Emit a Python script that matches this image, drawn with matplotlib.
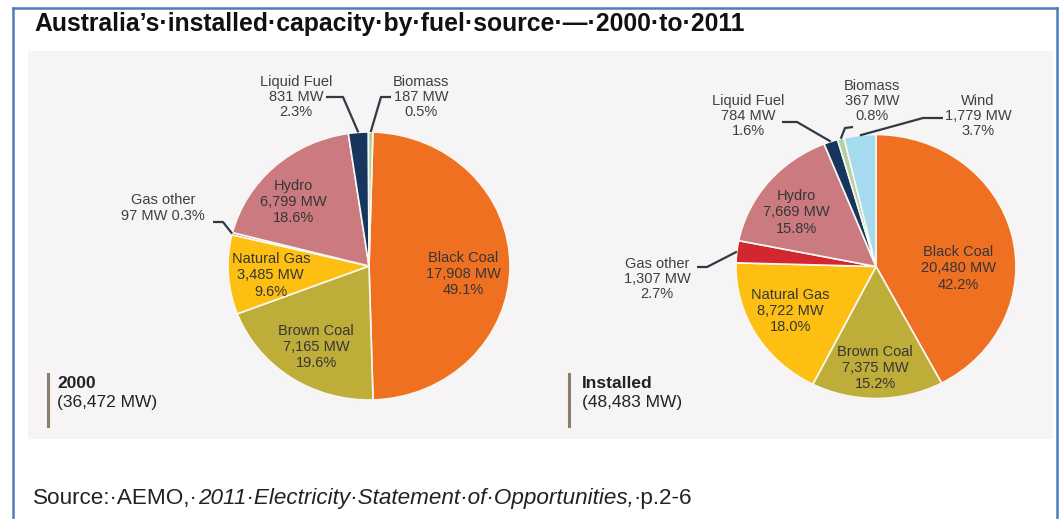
import numpy as np
import matplotlib.pyplot as plt
from matplotlib import font_manager
from matplotlib.lines import Line2D
from matplotlib.patches import Rectangle

W, H = 1061, 519

# --- data ---
fuels_2000 = ['Black Coal', 'Brown Coal', 'Natural Gas', 'Gas other', 'Hydro', 'Liquid Fuel', 'Biomass']
mw_2000 = [17908, 7165, 3485, 97, 6799, 831, 187]
fuels_2011 = ['Black Coal', 'Brown Coal', 'Natural Gas', 'Gas other', 'Hydro', 'Liquid Fuel', 'Biomass', 'Wind']
mw_2011 = [20480, 7375, 8722, 1307, 7669, 784, 367, 1779]
pie_names = ['2000', 'Installed']

title = 'Australia\u2019s\u00b7installed\u00b7capacity\u00b7by\u00b7fuel\u00b7source\u00b7\u2014\u00b72000\u00b7to\u00b72011'
source_parts = [('Source:\u00b7AEMO,\u00b7', 'normal'),
                ('2011\u00b7Electricity\u00b7Statement\u00b7of\u00b7Opportunities,', 'italic'),
                ('\u00b7p.2-6', 'normal')]

colours = {'Black Coal': '#F07022', 'Brown Coal': '#BFAD3A', 'Natural Gas': '#FDC012',
           'Gas other': '#D22630', 'Hydro': '#CB7A80', 'Liquid Fuel': '#17365D',
           'Biomass': '#B5CFA0', 'Wind': '#A6DBEF'}

# fonts: narrow Arial look-alike if there is one
names = {f.name for f in font_manager.fontManager.ttflist}
NARROW = 'Liberation Sans Narrow' if 'Liberation Sans Narrow' in names else 'Liberation Sans'
plt.rcParams['font.family'] = ['Liberation Sans', 'DejaVu Sans']

# --- layout, pixels from top-left ---
# centre x, centre y, radius x, radius y, start angle
geo = [dict(cx=369, cy=266, rx=141, ry=134, start=88.4),
       dict(cx=876, cy=266.5, rx=140, ry=132, start=90)]
# inner labels: (radius, angle nudge)
inner = [{'Black Coal': (0.67, -5), 'Brown Coal': (0.71, 2), 'Natural Gas': (0.70, 2), 'Hydro': (0.72, 6.4)},
         {'Black Coal': (0.59, -15.4), 'Brown Coal': (0.77, -1), 'Natural Gas': (0.70, -2), 'Hydro': (0.70, 4)}]
# outer labels: text centre, leader points before the wedge
outer = [{'Liquid Fuel': ((296, 97), [(326, 97), (343, 97)]),
          'Biomass': ((421, 97), [(391, 97), (381, 97)]),
          'Gas other': ((163, 208), [(213, 222), (223, 222)])},
         {'Liquid Fuel': ((748, 116), [(782, 122), (797, 122)]),
          'Biomass': ((872, 101), [(853, 127), (845, 128)]),
          'Wind': ((978, 116), [(943, 118), (923, 118)]),
          'Gas other': ((657, 279), [(697, 267), (707, 267)])}]
totals_pos = [(48, 57), (569, 582)]
LABEL_SIZE = 10.5


def fx(x):
    return x / W


def fy(y):
    return 1 - y / H


fig = plt.figure(figsize=(W / 100, H / 100), dpi=100)
fig.patch.set_facecolor('white')

# grey panel and blue frame
fig.add_artist(Rectangle((fx(28), fy(439)), (1053 - 28) / W, (439 - 51) / H,
                         transform=fig.transFigure, facecolor='#F6F4F4', edgecolor='none', zorder=0))
for x0, y0, x1, y1 in [(13, 519, 13, 7.5), (13, 7.5, 1057, 7.5), (1057, 7.5, 1057, 519)]:
    fig.add_artist(Line2D([fx(x0), fx(x1)], [fy(y0), fy(y1)], transform=fig.transFigure,
                          color='#4F7DBF', lw=1.8, zorder=5))

fig.text(fx(34), fy(31.5), title, fontsize=17.8, fontweight='bold', color='#111111', va='baseline')

for k, (fuels, mw) in enumerate([(fuels_2000, mw_2000), (fuels_2011, mw_2011)]):
    g = geo[k]
    ax = fig.add_axes([fx(g['cx'] - 1.5 * g['rx']), fy(g['cy'] + 1.5 * g['ry']),
                       3 * g['rx'] / W, 3 * g['ry'] / H])
    wedges, _ = ax.pie(mw, colors=[colours[f] for f in fuels], startangle=g['start'],
                       counterclock=False,
                       wedgeprops=dict(edgecolor='#F8F8F2', linewidth=1.2))
    ax.set_aspect('auto')
    ax.set_xlim(-1.5, 1.5)
    ax.set_ylim(-1.5, 1.5)
    ax.axis('off')
    ax.patch.set_alpha(0)

    def to_data(p):
        return ((p[0] - g['cx']) / g['rx'], (g['cy'] - p[1]) / g['ry'])

    total = sum(mw)
    for f, v, w in zip(fuels, mw, wedges):
        pct = 100 * v / total
        mid = np.deg2rad((w.theta1 + w.theta2) / 2)
        if f in inner[k]:
            r, d = inner[k][f]
            a = mid + np.deg2rad(d)
            ax.text(r * np.cos(a), r * np.sin(a), f'{f}\n{v:,} MW\n{pct:.1f}%',
                    ha='center', va='center', fontsize=LABEL_SIZE, color='#363636', linespacing=1.2)
        else:
            (tx, ty), pts = outer[k][f]
            if k == 0 and f == 'Gas other':
                s = f'{f}\n{v:,} MW {pct:.1f}%'
            else:
                s = f'{f}\n{v:,} MW\n{pct:.1f}%'
            ax.text(*to_data((tx, ty)), s, ha='center', va='center', fontsize=LABEL_SIZE,
                    color='#404040', linespacing=1.12)
            xs = [to_data(p)[0] for p in pts] + [np.cos(mid)]
            ys = [to_data(p)[1] for p in pts] + [np.sin(mid)]
            ax.plot(xs, ys, color='#2E3B45', lw=1.6, solid_capstyle='butt', clip_on=False)

    # total capacity tag
    bx, tx = totals_pos[k]
    fig.add_artist(Line2D([fx(bx), fx(bx)], [fy(374), fy(426)], transform=fig.transFigure,
                          color='#8C7E6A', lw=2.2))
    fig.text(fx(tx), fy(383), pie_names[k], fontsize=12.5, fontweight='bold',
             family=[NARROW, 'Liberation Sans'], color='#222222', va='center')
    fig.text(fx(tx), fy(403), f'({total:,} MW)', fontsize=12.5,
             family=[NARROW, 'Liberation Sans'], color='#222222', va='center')

# source line with an italic middle part
renderer = fig.canvas.get_renderer()
x = fx(33)
for s, style in source_parts:
    t = fig.text(x, fy(504), s, fontsize=16.2, fontstyle=style, family=[NARROW, 'Liberation Sans'],
                 color='#222222', va='baseline')
    x += t.get_window_extent(renderer).width / W

fig.savefig('out.png', dpi=100)
